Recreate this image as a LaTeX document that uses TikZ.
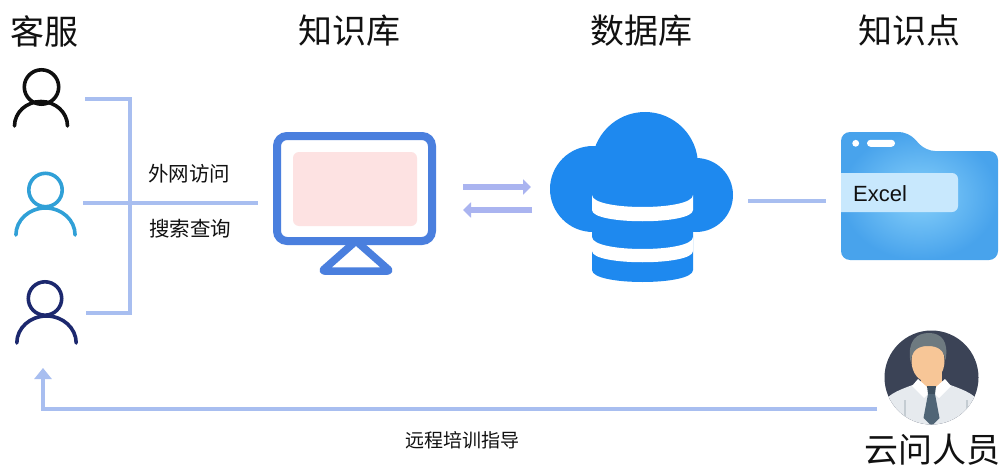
\documentclass[tikz,border=0pt]{standalone}
\usepackage{fontspec}
\setmainfont{Noto Sans CJK SC}
\newfontfamily\excelfont{Liberation Sans}
\usetikzlibrary{arrows.meta}

\definecolor{linkblue}{RGB}{168,190,240}
\definecolor{swapblue}{RGB}{170,180,240}
\definecolor{monblue}{RGB}{74,127,222}
\definecolor{screenpink}{RGB}{253,226,226}
\definecolor{cloudblue}{RGB}{30,137,239}
\definecolor{folderlight}{RGB}{135,208,250}
\definecolor{folderdark}{RGB}{72,163,236}
\definecolor{tagblue}{RGB}{200,232,253}
\definecolor{usercyan}{RGB}{48,160,215}
\definecolor{usernavy}{RGB}{28,40,110}
\definecolor{userblack}{RGB}{15,15,15}
\definecolor{avbg}{RGB}{59,67,86}
\definecolor{skin}{RGB}{247,198,151}
\definecolor{hair}{RGB}{110,122,128}
\definecolor{shirt}{RGB}{230,234,238}
\definecolor{shirtline}{RGB}{196,204,210}
\definecolor{tie}{RGB}{80,101,118}
\definecolor{tieknot}{RGB}{62,80,96}
\definecolor{ink}{RGB}{17,17,17}

% outline user icon: head centre (#1,#2), head radius #3,
% body base centre (#4,#5), body radii #6 (x) and #7 (y), colour #8
\newcommand\drawperson[8]{%
  \draw[#8, line width=3.6pt] (#1,#2) circle[radius=#3];
  \draw[#8, line width=3.6pt, line cap=round]
    (#4-#6,#5) .. controls (#4-#6,#5-0.5523*#7) and (#4-0.5523*#6,#5-#7) .. (#4,#5-#7)
               .. controls (#4+0.5523*#6,#5-#7) and (#4+#6,#5-0.5523*#7) .. (#4+#6,#5);
}

\tikzset{
  hdr/.style={font=\fontsize{34}{34}\selectfont, text=ink, inner sep=0pt},
  lbl/.style={font=\fontsize{20.5}{20.5}\selectfont, text=ink, inner sep=0pt},
  lblsmall/.style={font=\fontsize{19}{19}\selectfont, text=ink, inner sep=0pt},
  iconbox/.style={draw=none, inner sep=0pt, outer sep=0pt},
  link/.style={draw=linkblue, line width=4pt},
  swap/.style={draw=swapblue, line width=6.5pt, -{Triangle[length=8pt,width=15pt]}},
  back/.style={draw=linkblue, line width=4.5pt, -{Triangle[length=11pt,width=17pt]}},
}

\begin{document}
\begin{tikzpicture}[x=1pt,y=-1pt]
\useasboundingbox (0,0) rectangle (1003,468);
\fill[white] (0,0) rectangle (1003,468);

% column titles
\node[hdr] (tkf) at (44,31) {客服};
\node[hdr] (tzsk) at (349,31) {知识库};
\node[hdr] (tsjk) at (641,31) {数据库};
\node[hdr] (tzsd) at (909,31) {知识点};
\node[hdr] (tyw) at (932,450) {云问人员};

% customer-service users
\node[iconbox, minimum width=59pt, minimum height=62pt] (p1) at (41.5,99) {};
\node[iconbox, minimum width=65pt, minimum height=68pt] (p2) at (45.5,203) {};
\node[iconbox, minimum width=66pt, minimum height=68pt] (p3) at (46.5,313) {};
\drawperson{41.5}{87}{17.2}{41}{126}{26.5}{24.5}{userblack}
\drawperson{45.5}{190}{16.7}{45.5}{235}{29.6}{27}{usercyan}
\drawperson{45}{298.5}{16.7}{46.5}{343}{29.7}{27}{usernavy}

% knowledge-base terminal
\node[iconbox, minimum width=163pt, minimum height=143pt] (mon) at (354.5,203.5) {};
\draw[monblue, line width=8pt, rounded corners=10pt] (277,136) rectangle (432,241);
\fill[screenpink, rounded corners=6pt] (293,152) rectangle (417,226);
\draw[monblue, line width=7.5pt, line join=round, rounded corners=2.5pt]
  (356,241) -- (390,271) -- (322,271) -- cycle;

% cloud database
\node[iconbox, minimum width=185pt, minimum height=170pt] (db) at (642.5,197) {};
\fill[cloudblue] (645,165) circle[radius=53];
\fill[cloudblue] (593,189) circle[radius=43];
\fill[cloudblue] (696,195) circle[radius=37];
\fill[cloudblue] (593,165) rectangle (696,232);
\fill[cloudblue] (592,200) -- (592,270) .. controls (592,286) and (693,286) .. (693,270)
  -- (693,200) -- cycle;
\fill[white] (592,195) .. controls (592,211) and (693,211) .. (693,195)
  -- (693,210) .. controls (693,225) and (592,225) .. (592,210) -- cycle;
\fill[white] (592,237) .. controls (592,253) and (693,253) .. (693,237)
  -- (693,251) .. controls (693,266) and (592,266) .. (592,251) -- cycle;

% Excel folder
\node[iconbox, minimum width=157pt, minimum height=128pt] (fold) at (919.5,196) {};
\shade[inner color=folderlight, outer color=folderdark, rounded corners=9pt]
  (841,132) -- (908,132) -- (926,151) -- (998,151) -- (998,260) -- (841,260) -- cycle;
\fill[white] (855.7,143.3) circle[radius=3.4];
\fill[white, rounded corners=3.5pt] (867,139.8) rectangle (895,146.8);
\fill[tagblue] (841,173) -- (952,173) .. controls (955.3,173) and (958,175.7) .. (958,179)
  -- (958,206) .. controls (958,209.3) and (955.3,212) .. (952,212) -- (841,212) -- cycle;
\node[font=\excelfont\fontsize{22}{22}\selectfont, text=ink, anchor=base west, inner sep=0pt]
  (excel) at (853,201) {Excel};

% support-staff avatar
\node[iconbox, circle, minimum size=94pt] (av) at (931.5,377.5) {};
\fill[avbg] (931.5,377.5) circle[radius=47];
\begin{scope}
  \clip (931.5,377.5) circle[radius=47];
  \fill[shirt] (878,432) -- (883,404) .. controls (887,393) and (905,388) .. (918,383)
    -- (945,383) .. controls (958,388) and (976,393) .. (980,404) -- (985,432) -- cycle;
  \draw[shirtline, line width=1.5pt] (905,400) -- (905,420) (967,400) -- (967,420);
  \fill[skin] (921,366) rectangle (942,390);
  \fill[white] (918,379) -- (931.5,391) -- (924,398) -- (912,386) -- cycle;
  \fill[white] (945,379) -- (931.5,391) -- (939,398) -- (951,386) -- cycle;
  \fill[tieknot] (927,386) -- (936,386) -- (935,394) -- (928,394) -- cycle;
  \fill[tie] (928,394) -- (935,394) -- (939.5,418) -- (931.5,426) -- (923.5,418) -- cycle;
  \fill[skin] (928,361) ellipse[x radius=16.5, y radius=21];
  \fill[hair] (910.5,362) .. controls (907,340) and (917,333) .. (929,333)
    .. controls (941,333) and (949,341) .. (945.5,360)
    .. controls (944,350) and (938,346) .. (928,346)
    .. controls (918,346) and (912,350) .. (910.5,362) -- cycle;
\end{scope}

% user group bracket and link to the terminal
\coordinate (jb) at (130,313);
\draw[link] ([xshift=14pt]p1.east) -| (jb) -- ([xshift=6pt]p3.east |- jb);
\draw[link] ([xshift=5pt]p2.east) -- ([xshift=-15pt]mon.west |- p2.east);
\node[lbl] (lwai) at (189,174) {外网访问};
\node[lbl] (lsou) at (190,229) {搜索查询};

% terminal <-> database exchange
\draw[swap] ([xshift=27pt,yshift=16.5pt]mon.east) -- ([xshift=-19pt,yshift=10pt]db.west);
\draw[swap] ([xshift=-18pt,yshift=-13pt]db.west) -- ([xshift=27pt,yshift=-6.5pt]mon.east);

% database to knowledge points
\draw[link] ([xshift=13pt,yshift=-4pt]db.east) -- ([xshift=-15pt,yshift=-5pt]fold.west);

% remote training back to the users
\draw[back] ([xshift=-7.5pt,yshift=-31.5pt]av.west) -| ([xshift=-3.5pt,yshift=-21pt]p3.south);
\node[lblsmall] (lyc) at (462,440) {远程培训指导};
\end{tikzpicture}
\end{document}
